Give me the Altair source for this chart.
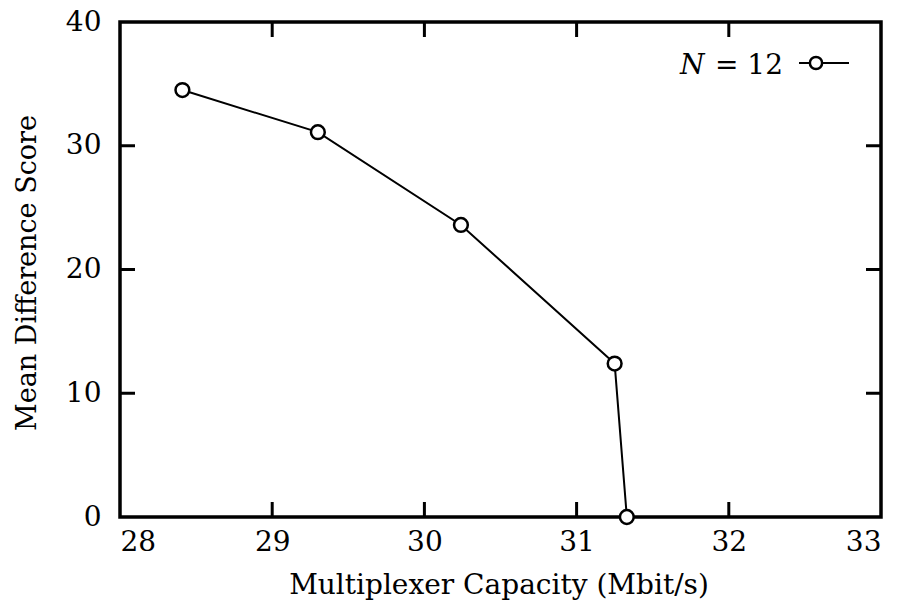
import altair as alt
import pandas as pd

# Measured curve for N = 12
capacity = [28.41, 29.30, 30.24, 31.25, 31.33]
score = [34.5, 31.1, 23.6, 12.4, 0.0]

x_ticks = [28, 29, 30, 31, 32, 33]
y_ticks = [0, 10, 20, 30, 40]
x_inner_ticks = [29, 30, 31, 32]
y_inner_ticks = [10, 20, 30]

W, H = 761, 495
FONT = "DejaVu Serif"
FS = 28

df = pd.DataFrame({"capacity": capacity, "score": score})
xt = pd.DataFrame({"v": x_inner_ticks})
yt = pd.DataFrame({"v": y_inner_ticks})

x_enc = alt.X(
    "capacity:Q",
    scale=alt.Scale(domain=[28, 33], nice=False, zero=False),
    axis=alt.Axis(
        values=x_ticks, format="d", ticks=False, domain=False, grid=False,
        labelPadding=11, labelFontSize=FS, labelFont=FONT, labelColor="black",
        title="Multiplexer Capacity (Mbit/s)", titleFont=FONT, titleFontSize=28,
        titleFontWeight="normal", titleColor="black",
        titleBaseline="alphabetic", titleY=76, titleX=W / 2 - 2,
    ),
)
y_enc = alt.Y(
    "score:Q",
    scale=alt.Scale(domain=[0, 40], nice=False),
    axis=alt.Axis(
        values=y_ticks, format="d", ticks=False, domain=False, grid=False,
        labelPadding=19, labelFontSize=FS, labelFont=FONT, labelColor="black",
        title="Mean Difference Score", titleFont=FONT, titleFontSize=27,
        titleFontWeight="normal", titleColor="black", titleAngle=270,
        titleBaseline="alphabetic", titleAlign="center",
        titleX=-85, titleY=H / 2 + 3,
    ),
)

base = alt.Chart(df)
line = base.mark_line(color="black", strokeWidth=2).encode(x=x_enc, y=y_enc)
pts = base.mark_point(
    shape="circle", filled=True, fill="white", stroke="black",
    strokeWidth=2.5, size=190, opacity=1,
).encode(x="capacity:Q", y="score:Q")

# Inward tick marks on all four sides
tick_style = dict(color="black", strokeWidth=3)
xb = alt.Chart(xt).mark_rule(**tick_style).encode(
    x="v:Q", y=alt.value(H), y2=alt.value(H - 15))
xtop = alt.Chart(xt).mark_rule(**tick_style).encode(
    x="v:Q", y=alt.value(0), y2=alt.value(15))
yl = alt.Chart(yt).mark_rule(**tick_style).encode(
    y="v:Q", x=alt.value(0), x2=alt.value(15))
yr = alt.Chart(yt).mark_rule(**tick_style).encode(
    y="v:Q", x=alt.value(W), x2=alt.value(W - 15))

# Key in the upper right corner
key_df = pd.DataFrame({"k": [0]})
key_n = alt.Chart(key_df).mark_text(
    text="N", font=FONT, fontSize=FS, fontStyle="italic", align="left",
    baseline="alphabetic", color="black",
).encode(x=alt.value(560), y=alt.value(52))
key_eq = alt.Chart(key_df).mark_text(
    text="= 12", font=FONT, fontSize=FS, align="left",
    baseline="alphabetic", color="black",
).encode(x=alt.value(595), y=alt.value(52))
key_line = alt.Chart(key_df).mark_rule(color="black", strokeWidth=2).encode(
    x=alt.value(679), x2=alt.value(729), y=alt.value(41))
key_pt = alt.Chart(key_df).mark_point(
    shape="circle", filled=True, fill="white", stroke="black",
    strokeWidth=2.5, size=150, opacity=1,
).encode(x=alt.value(696), y=alt.value(41))

chart = alt.layer(
    line, xb, xtop, yl, yr, pts, key_line, key_pt, key_n, key_eq
).properties(
    width=W, height=H,
    background="white",
    autosize=alt.AutoSizeParams(type="none"),
    padding={"left": 120, "top": 22, "right": 17, "bottom": 86},
).configure_view(
    stroke="black", strokeWidth=3.5
)

chart.save("out.html", embed_options={"renderer": "svg", "actions": False})
